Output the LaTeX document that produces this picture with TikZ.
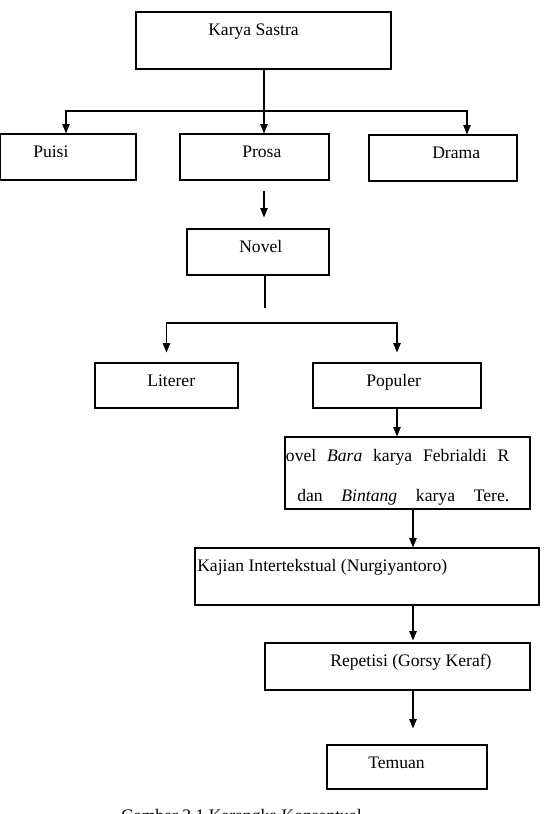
\documentclass[tikz,border=0pt]{standalone}
\usepackage{fontspec}
\setmainfont{Liberation Serif}
\usetikzlibrary{
  arrows.meta, % for the small filled arrow heads
}

\tikzset{
  box/.style={draw, line width=0.8pt, inner sep=0pt},
  txt/.style={inner sep=0pt, anchor=base west, font=\fontsize{13.2pt}{15pt}\selectfont},
  conn/.style={line width=0.8pt},
  arr/.style={conn, -{Triangle[length=7pt, width=5.5pt]}},
}

\begin{document}
\begin{tikzpicture}[x=0.75pt, y=-0.75pt]
  \useasboundingbox (0,0) rectangle (545,814);

  \node [box, minimum width=191.25pt, minimum height=42.75pt] (karya) at (263.5,40.5) {};
  \node [box, minimum width=102pt, minimum height=34.5pt] (puisi) at (68,157) {};
  \node [box, minimum width=111.75pt, minimum height=34.5pt] (prosa) at (254.5,157) {};
  \node [box, minimum width=111pt, minimum height=34.5pt] (drama) at (443,158) {};
  \node [box, minimum width=106.5pt, minimum height=34.5pt] (novel) at (258,252) {};
  \node [box, minimum width=107.25pt, minimum height=33.75pt] (literer) at (166.5,385.5) {};
  \node [box, minimum width=126pt, minimum height=33.75pt] (populer) at (397,385.5) {};
  \node [box, minimum width=183.75pt, minimum height=54pt] (novbara) at (407.5,473) {};
  \node [box, minimum width=258pt, minimum height=42.75pt] (kajian) at (367,576.5) {};
  \node [box, minimum width=198.75pt, minimum height=35.25pt] (repetisi) at (397.5,666.5) {};
  \node [box, minimum width=120pt, minimum height=33pt] (temuan) at (407,767) {};

  \node [txt] (karyaT) at (208,35) {Karya Sastra};
  \node [txt] (puisiT) at (33,157) {Puisi};
  \node [txt] (prosaT) at (242,157) {Prosa};
  \node [txt] (dramaT) at (432,158) {Drama};
  \node [txt] (novelT) at (239,252) {Novel};
  \node [txt] (litererT) at (147,386.5) {Literer};
  \node [txt] (populerT) at (366,386.5) {Populer};
  \begin{scope}
    \clip (novbara.north west) rectangle ([yshift=4.1pt]novbara.south east);
    \node [txt] (baraT) at (273,461) {\makebox[177pt][s]{Novel \textit{Bara} karya Febrialdi R}};
    \node [txt] (bintangT) at (297,501.5) {\makebox[159pt][s]{dan \textit{Bintang} karya Tere.}};
  \end{scope}
  \node [txt] (kajianT) at (197,571) {Kajian Intertekstual (Nurgiyantoro)};
  \node [txt] (repetisiT) at (330,666.5) {Repetisi (Gorsy Keraf)};
  \node [txt] (temuanT) at (368,768) {Temuan};
  \node [txt] (caption) at (121,821.5) {Gambar 2.1 Kerangka Konseptual};

  \coordinate (trunk) at (264,0);
  \coordinate (fork1) at (264,111);
  \coordinate (fork2) at (265,323);
  \coordinate (spine) at (413,0);

  \draw [arr] (karya.south -| trunk) -- (prosa.north -| trunk);
  \draw [arr] (fork1) -| ([xshift=-1.5pt]puisi.north);
  \draw [arr] (fork1) -| ([xshift=18pt]drama.north);
  \draw [arr, shorten <=7.5pt, shorten >=8.25pt] (prosa.south -| trunk) -- (novel.north -| trunk);
  \draw [conn, shorten >=11.25pt] (novel.south -| fork2) -- (fork2);
  \draw [arr, shorten >=7.5pt] (fork2) -| (literer.north);
  \draw [arr, shorten >=7.5pt] (fork2) -| (populer.north);
  \draw [arr] (populer.south) -- (populer.south |- novbara.north);
  \draw [arr] (novbara.south -| spine) -- (kajian.north -| spine);
  \draw [arr, shorten >=1.5pt] (kajian.south -| spine) -- (repetisi.north -| spine);
  \draw [arr, shorten >=12pt] (repetisi.south -| spine) -- (temuan.north -| spine);
\end{tikzpicture}
\end{document}
